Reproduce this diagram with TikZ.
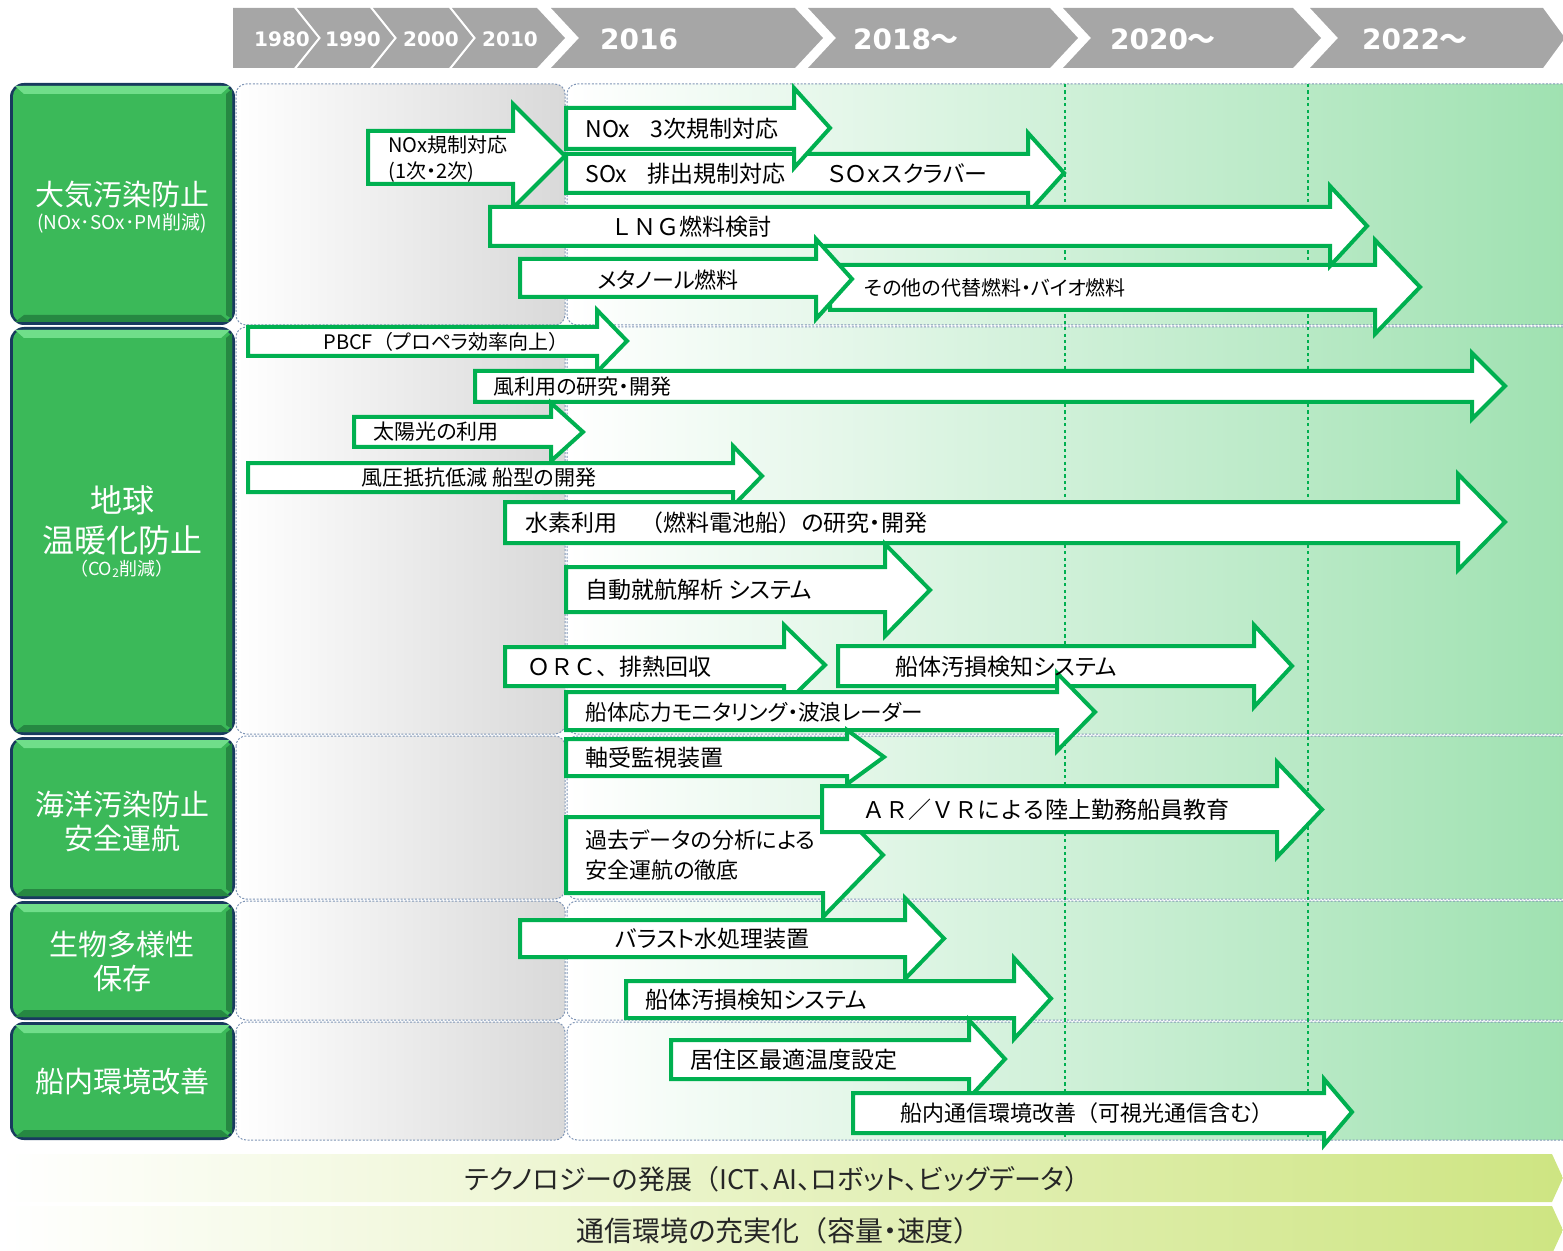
\documentclass[tikz,border=0pt]{standalone}
\usepackage{fontspec}
\setmainfont{Noto Sans CJK JP}[RawFeature=+palt]
\newfontfamily\yearfont{DejaVu Sans}
\newfontfamily\jpfull{Noto Sans CJK JP}

\definecolor{arrowgreen}{RGB}{0,176,80}
\definecolor{catgreen}{RGB}{59,185,89}
\definecolor{catlight}{RGB}{112,222,138}
\definecolor{catdark}{RGB}{38,136,66}
\definecolor{catedge}{RGB}{24,58,94}
\definecolor{yeargray}{RGB}{166,166,166}
\definecolor{panelgreen}{RGB}{158,225,176}
\definecolor{bandgreen}{RGB}{206,229,130}
\definecolor{sepblue}{RGB}{128,150,182}

\newcommand{\blockarrow}[7]{%
  \draw[blk] (#1,#4) -- (#2,#4) -- (#2,#6) -- (#3,{(#6+#7)/2}) -- (#2,#7) -- (#2,#5) -- (#1,#5) -- cycle;}
\newcommand{\yearchev}[4]{%
  \fill[yeargray] (#1,8) -- (#2,8) -- ({#2+#4},38) -- (#2,68) -- (#1,68) -- ({#1+#3},38) -- cycle;}
\newcommand{\lpar}{{\jpfull （}}
\newcommand{\rpar}{{\jpfull ）}}

\begin{document}
\begin{tikzpicture}[x=0.5pt, y=-0.5pt,
    blk/.style={draw=arrowgreen, fill=white, line width=2pt},
    lbl/.style={anchor=west, inner sep=0pt, text=black, font=\fontsize{11.5}{15}\selectfont},
    lblf/.style={lbl, font=\jpfull\fontsize{11.5}{15}\selectfont},
    lbls/.style={lbl, font=\fontsize{10.5}{13}\selectfont},
    cattxt/.style={text=white, inner sep=0pt, font=\fontsize{14.5}{17}\selectfont},
    catsub/.style={text=white, inner sep=0pt, font=\fontsize{9.5}{11}\selectfont},
    yr/.style={text=white, inner sep=0pt, font=\yearfont\bfseries\fontsize{10}{12}\selectfont},
    yrbig/.style={yr, font=\yearfont\bfseries\fontsize{14}{16}\selectfont},
    bandtxt/.style={inner sep=0pt, text=black!85, font=\fontsize{13.5}{16}\selectfont},
    sepline/.style={draw=sepblue, line width=0.5pt, dash pattern=on 1pt off 0.8pt},
    yearline/.style={draw=arrowgreen, line width=0.8pt, dash pattern=on 1.6pt off 1.6pt}]

  \useasboundingbox (0,0) rectangle (1563,1251);

  % year bar
  \yearchev{233}{294}{0}{24}
  \yearchev{297}{370}{24}{24}
  \yearchev{373}{449}{24}{24}
  \yearchev{452}{537}{24}{28}
  \yearchev{551}{795}{28}{28}
  \yearchev{808}{1050}{28}{28}
  \yearchev{1063}{1293}{28}{28}
  \yearchev{1310}{1543}{28}{22}
  \node[yr] (y1980) at (282,39) {1980};
  \node[yr] (y1990) at (353,39) {1990};
  \node[yr] (y2000) at (431,39) {2000};
  \node[yr] (y2010) at (510,39) {2010};
  \node[yrbig] (y2016) at (639,39) {2016};
  \node[yrbig] (y2018) at (906,39) {2018{\jpfull ～}};
  \node[yrbig] (y2020) at (1163,39) {2020{\jpfull ～}};
  \node[yrbig] (y2022) at (1415,39) {2022{\jpfull ～}};

  % panels
  \foreach \ya/\yb in {84/325, 327/734, 736/899, 901/1020, 1022/1140}{
    \draw[sepline, left color=white, right color=gray!30, rounded corners=5] (236,\ya) rectangle (565,\yb);
    \draw[sepline, left color=white, right color=panelgreen, rounded corners=5] (567,\ya) rectangle (1575,\yb);
  }
  \draw[yearline] (1065,84) -- (1065,1140);
  \draw[yearline] (1308,84) -- (1308,1140);

  % category boxes
  \foreach \ya/\yb in {83/325, 327/735, 737/899, 901/1020, 1022/1140}{
    \fill[catedge, rounded corners=7] (10,\ya) rectangle (235,\yb);
    \fill[catgreen, rounded corners=5] (13,\ya+3) rectangle (232,\yb-3);
    \fill[catlight] (15,\ya+3) -- (230,\ya+3) -- (221,\ya+11) -- (24,\ya+11) -- cycle;
    \fill[catdark] (15,\yb-3) -- (230,\yb-3) -- (221,\yb-10) -- (24,\yb-10) -- cycle;
    \fill[catdark] (232,\ya+6) -- (232,\yb-6) -- (226,\yb-10) -- (226,\ya+11) -- cycle;
  }
  \node[cattxt] (air) at (122,195) {大気汚染防止};
  \node[catsub] (airsub) at (122,223) {(NOx･SOx･PM削減)};
  \node[cattxt, font=\fontsize{16}{20}\selectfont, align=center] (warm) at (122,520) {地球\\温暖化防止};
  \node[catsub, font=\fontsize{9}{11}\selectfont] (warmsub) at (122,569) {\lpar CO\textsubscript{2}削減\rpar};
  \node[cattxt, align=center] (sea) at (122,821) {海洋汚染防止\\安全運航};
  \node[cattxt, align=center] (bio) at (122,961) {生物多様性\\保存};
  \node[cattxt] (onboard) at (122,1081) {船内環境改善};

  % air pollution
  \blockarrow{566}{1028}{1064}{154}{193}{133}{213}
  \blockarrow{566}{794}{830}{108}{149}{88}{168}
  \blockarrow{368}{513}{565}{131}{184}{104}{208}
  \blockarrow{830}{1375}{1420}{265}{310}{240}{334}
  \blockarrow{490}{1330}{1367}{207}{246}{186}{266}
  \blockarrow{520}{816}{852}{259}{297}{239}{319}
  \node[lbls, align=left, font=\fontsize{10}{13}\selectfont] (noxreg) at (388,159) {NOx規制対応\\(1次・2次)};
  \node[lbl] (nox3) at (585,129) {NOx\hspace{0.9em}3次規制対応};
  \node[lbl] (sox) at (585,174) {SOx\hspace{0.9em}排出規制対応};
  \node[lbl] (scrub) at (828,174) {ＳＯｘスクラバー};
  \node[lblf] (lng) at (610,227) {ＬＮＧ燃料検討};
  \node[lbl, font=\fontsize{11}{14}\selectfont] (meth) at (597,280) {メタノール燃料};
  \node[lbls, font=\fontsize{10}{12}\selectfont] (altfuel) at (864,288) {その他の代替燃料・バイオ燃料};

  % global warming
  \blockarrow{248}{597}{627}{327}{356}{310}{372}
  \blockarrow{475}{1472}{1505}{371}{402}{353}{419}
  \blockarrow{354}{551}{583}{417}{447}{403}{461}
  \blockarrow{248}{733}{762}{463}{492}{446}{506}
  \blockarrow{505}{1458}{1505}{502}{543}{474}{570}
  \blockarrow{566}{885}{930}{567}{612}{544}{636}
  \blockarrow{505}{784}{825}{647}{686}{625}{705}
  \blockarrow{838}{1254}{1292}{646}{686}{625}{707}
  \blockarrow{566}{1057}{1095}{692}{730}{673}{751}
  \node[lbls, font=\fontsize{10}{12}\selectfont] (pbcf) at (323,342) {PBCF\lpar プロペラ効率向上\rpar};
  \node[lbls] (wind) at (493,387) {風利用の研究・開発};
  \node[lbls] (solar) at (373,432) {太陽光の利用};
  \node[lbls] (hull) at (361,478) {風圧抵抗低減 船型の開発};
  \node[lbl] (hydro) at (525,523) {水素利用　\lpar 燃料電池船\rpar の研究・開発};
  \node[lbl] (auto) at (585,590) {自動就航解析 システム};
  \node[lblf] (orc) at (527,667) {ＯＲＣ、排熱回収};
  \node[lbl] (foul) at (895,667) {船体汚損検知システム};
  \node[lbl, font=\fontsize{10.8}{14}\selectfont] (stress) at (585,712) {船体応力モニタリング・波浪レーダー};

  % marine pollution, safety
  \blockarrow{566}{847}{884}{739}{776}{730}{784}
  \blockarrow{566}{823}{883}{817}{893}{793}{917}
  \blockarrow{822}{1277}{1322}{786}{832}{762}{857}
  \node[lbl] (bearing) at (585,758) {軸受監視装置};
  \node[lbl, align=left, font=\fontsize{11}{15}\selectfont] (past) at (585,855) {過去データの分析による\\安全運航の徹底};
  \node[lblf] (arvr) at (862,810) {ＡＲ／ＶＲによる陸上勤務船員教育};

  % biodiversity
  \blockarrow{520}{905}{944}{920}{957}{898}{979}
  \blockarrow{626}{1014}{1051}{981}{1018}{958}{1039}
  \node[lbl] (ballast) at (615,939) {バラスト水処理装置};
  \node[lbl] (foulb) at (645,1000) {船体汚損検知システム};

  % onboard environment
  \blockarrow{671}{969}{1005}{1040}{1079}{1020}{1098}
  \blockarrow{853}{1324}{1352}{1093}{1133}{1079}{1145}
  \node[lbl] (temp) at (690,1060) {居住区最適温度設定};
  \node[lbls, font=\fontsize{11}{13}\selectfont] (comm) at (900,1113) {船内通信環境改善\lpar 可視光通信含む\rpar};

  % bottom bands
  \shade[left color=white, right color=bandgreen] (0,1154) -- (1552,1154) -- (1563,1178) -- (1552,1202) -- (0,1202) -- cycle;
  \shade[left color=white, right color=bandgreen] (0,1206) -- (1552,1206) -- (1563,1230) -- (1552,1254) -- (0,1254) -- cycle;
  \node[bandtxt] (tech) at (778,1179) {テクノロジーの発展\lpar ICT、AI、ロボット、ビッグデータ\rpar};
  \node[bandtxt, font=\fontsize{14}{16}\selectfont] (net) at (779,1231) {通信環境の充実化\lpar 容量・速度\rpar};
\end{tikzpicture}
\end{document}
